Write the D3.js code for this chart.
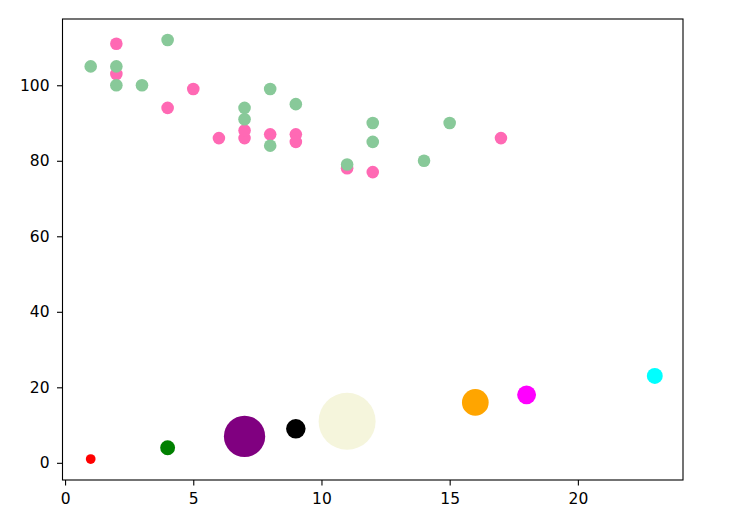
<!DOCTYPE html>
<html>
<head>
<meta charset="utf-8">
<script src="https://cdn.jsdelivr.net/npm/d3@7"></script>
<style>
  html, body { margin: 0; padding: 0; background: #fff; }
  svg { display: block; }
  .tick text { font-family: "DejaVu Sans", sans-serif; font-size: 15.5px; fill: #000; }
</style>
</head>
<body>
<script>
// Series 1 (hotpink)
const pinkX = [5, 7, 8, 7, 2, 17, 2, 9, 4, 11, 12, 9, 6];
const pinkY = [99, 86, 87, 88, 111, 86, 103, 87, 94, 78, 77, 85, 86];
// Series 2 (green)
const greenX = [2, 2, 8, 1, 15, 8, 12, 9, 7, 3, 11, 4, 7, 14, 12];
const greenY = [100, 105, 84, 105, 90, 99, 90, 95, 94, 100, 79, 112, 91, 80, 85];
// Bubble series
const bubbleX = [1, 4, 7, 9, 11, 16, 18, 23];
const bubbleY = [1, 4, 7, 9, 11, 16, 18, 23];
const bubbleSize = [12, 28, 215, 48, 410, 90, 45, 32];
const bubbleColor = ["red", "green", "purple", "black", "beige", "orange", "magenta", "cyan"];
const defaultSize = 20;
// Ticks
const xTicks = [0, 5, 10, 15, 20];
const yTicks = [0, 20, 40, 60, 80, 100];

const W = 732, H = 516;
const L = 62.5, R = 683, T = 19, B = 480;

const svg = d3.select("body").append("svg").attr("width", W).attr("height", H);

const x = d3.scaleLinear().domain([-0.1, 24.1]).range([L, R]);
const y = d3.scaleLinear().domain([-4.55, 117.55]).range([B, T]);
const r = d3.scaleSqrt().domain([0, 410]).range([0, 28.5]);

const plot = svg.append("g");

plot.selectAll("circle.pink").data(pinkX.map((v, i) => [v, pinkY[i]]))
  .join("circle").attr("class", "pink")
  .attr("cx", d => x(d[0])).attr("cy", d => y(d[1]))
  .attr("r", r(defaultSize)).attr("fill", "hotpink");

plot.selectAll("circle.green").data(greenX.map((v, i) => [v, greenY[i]]))
  .join("circle").attr("class", "green")
  .attr("cx", d => x(d[0])).attr("cy", d => y(d[1]))
  .attr("r", r(defaultSize)).attr("fill", "#88c999");

plot.selectAll("circle.bubble").data(bubbleX.map((v, i) => ({x: v, y: bubbleY[i], s: bubbleSize[i], c: bubbleColor[i]})))
  .join("circle").attr("class", "bubble")
  .attr("cx", d => x(d.x)).attr("cy", d => y(d.y))
  .attr("r", d => r(d.s)).attr("fill", d => d.c);

// Axes
const xAxis = svg.append("g").attr("transform", `translate(0,${B})`)
  .call(d3.axisBottom(x).tickValues(xTicks).tickFormat(d3.format("d")).tickSize(5.5).tickPadding(7.5));
const yAxis = svg.append("g").attr("transform", `translate(${L},0)`)
  .call(d3.axisLeft(y).tickValues(yTicks).tickFormat(d3.format("d")).tickSize(5.5).tickPadding(7.5));
[xAxis, yAxis].forEach(a => {
  a.select(".domain").remove();
  a.selectAll(".tick line").attr("stroke", "#000").attr("stroke-width", 1.1);
});

// Frame
svg.append("rect").attr("x", L).attr("y", T).attr("width", R - L).attr("height", B - T)
  .attr("fill", "none").attr("stroke", "#000").attr("stroke-width", 1.1);
</script>
</body>
</html>
